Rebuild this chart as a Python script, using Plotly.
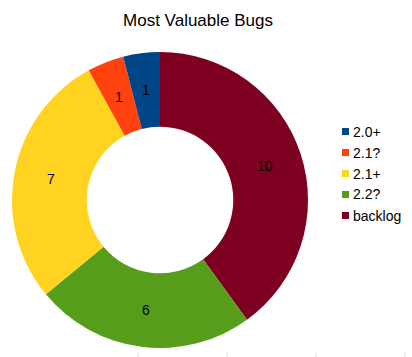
import math
import plotly.graph_objects as go

labels = ["2.0+", "2.1?", "2.1+", "2.2?", "backlog"]
values = [1, 1, 7, 6, 10]
colors = ["#004586", "#ff420e", "#ffd320", "#579d1c", "#7e0021"]

W, H = 412, 357
FONT = "Liberation Sans, Arial, sans-serif"
CX, CY, R_OUT, HOLE = 160, 200, 148, 0.495

# slices run counter-clockwise from 12 o'clock; drawn clockwise in reverse order
fig = go.Figure(go.Pie(
    labels=labels[::-1], values=values[::-1], sort=False, direction="clockwise",
    rotation=0, hole=HOLE,
    marker=dict(colors=colors[::-1], line=dict(color="rgba(255,255,255,0)", width=0)),
    textinfo="none",
    domain=dict(x=[(CX - R_OUT) / W, (CX + R_OUT) / W], y=[(H - CY - R_OUT) / H, (H - CY + R_OUT) / H]),
    hoverinfo="label+value+percent",
    showlegend=False,
))

# value labels at the middle of the ring, as in the reference
total = sum(values)
r_mid = R_OUT * (1 + HOLE) / 2
cum = 0
for v in values:
    ang = math.radians((cum + v / 2) / total * 360)  # counter-clockwise from top
    cum += v
    px = CX - r_mid * math.sin(ang)
    py = CY - r_mid * math.cos(ang)
    fig.add_annotation(text=str(v), xref="paper", yref="paper", x=px / W, y=1 - py / H,
                       xanchor="center", yanchor="middle", showarrow=False,
                       font=dict(family=FONT, size=14, color="black"))

fig.update_layout(
    width=W, height=H,
    margin=dict(l=0, r=0, t=0, b=0, autoexpand=False),
    paper_bgcolor="white", plot_bgcolor="white",
    title=dict(text="Most Valuable Bugs", x=198 / W, xanchor="center", y=1 - 20 / H, yanchor="middle",
               font=dict(family=FONT, size=17, color="black")),
    showlegend=False,
)

# custom legend (square swatch close to the label, as in the reference)
for i, (lab, col) in enumerate(zip(labels, colors)):
    cy = 131.5 + 21 * i
    fig.add_shape(type="rect", xref="paper", yref="paper",
                  x0=342 / W, x1=349 / W, y0=1 - (cy + 3.5) / H, y1=1 - (cy - 3.5) / H,
                  fillcolor=col, line=dict(width=0))
    fig.add_annotation(text=lab, xref="paper", yref="paper", x=351 / W, y=1 - cy / H,
                       xanchor="left", yanchor="middle", showarrow=False,
                       font=dict(family=FONT, size=14, color="black"))

for px in [138, 227, 316, 405]:
    fig.add_shape(type="line", xref="paper", yref="paper", x0=px / W, x1=px / W,
                  y0=0, y1=4 / H, line=dict(color="#d8d8d8", width=1))

fig.write_html("out.html")
